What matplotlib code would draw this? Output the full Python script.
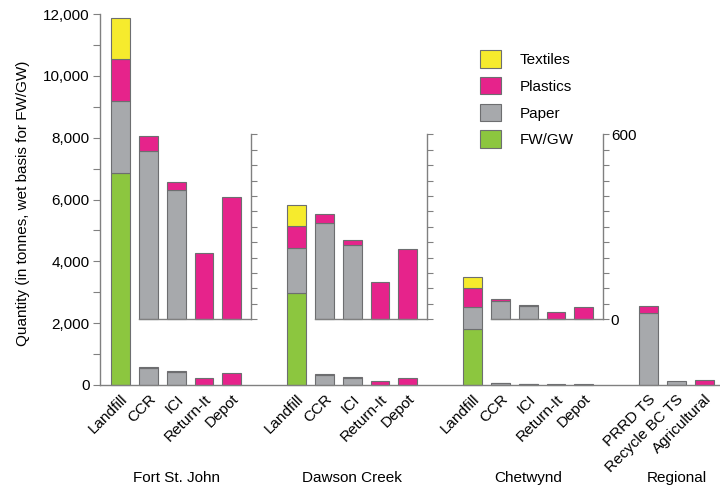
import matplotlib.pyplot as plt
import numpy as np

plt.rcParams['font.family'] = ['Liberation Sans', 'DejaVu Sans']
plt.rcParams['font.size'] = 11

# tonnes per year, stacked FW/GW -> Paper -> Plastics -> Textiles
fsj_sites = ['Landfill', 'CCR', 'ICI', 'Return-It', 'Depot']
fsj_fwgw = [6850, 0, 0, 0, 0]
fsj_paper = [2340, 545, 418, 0, 0]
fsj_plastics = [1360, 50, 28, 214, 398]
fsj_textiles = [1320, 0, 0, 0, 0]

dc_sites = ['Landfill', 'CCR', 'ICI', 'Return-It', 'Depot']
dc_fwgw = [2990, 0, 0, 0, 0]
dc_paper = [1455, 311, 240, 0, 0]
dc_plastics = [710, 30, 16, 122, 227]
dc_textiles = [670, 0, 0, 0, 0]

chet_sites = ['Landfill', 'CCR', 'ICI', 'Return-It', 'Depot']
chet_fwgw = [1800, 0, 0, 0, 0]
chet_paper = [710, 59, 43, 0, 0]
chet_plastics = [615, 6, 4, 23, 41]
chet_textiles = [355, 0, 0, 0, 0]

reg_sites = ['PRRD TS', 'Recycle BC TS', 'Agricultural']
reg_fwgw = [0, 0, 0]
reg_paper = [2340, 130, 0]
reg_plastics = [210, 0, 150]
reg_textiles = [0, 0, 0]

group_names = ['Fort St. John', 'Dawson Creek', 'Chetwynd', 'Regional']

col_fwgw = '#8CC63F'
col_paper = '#A7A9AC'
col_plastics = '#E6238B'
col_textiles = '#F6EB2D'
edge = '#6D6E70'
spine_col = '#808080'

groups = [
    (fsj_sites, fsj_fwgw, fsj_paper, fsj_plastics, fsj_textiles),
    (dc_sites, dc_fwgw, dc_paper, dc_plastics, dc_textiles),
    (chet_sites, chet_fwgw, chet_paper, chet_plastics, chet_textiles),
    (reg_sites, reg_fwgw, reg_paper, reg_plastics, reg_textiles),
]
group_start = [0, 6.33, 12.66, 18.99]
width = 0.68


def stacked(axis, x, fw, pa, pl, te):
    bottom = np.zeros(len(x))
    for vals, c in [(fw, col_fwgw), (pa, col_paper), (pl, col_plastics), (te, col_textiles)]:
        vals = np.array(vals, dtype=float)
        m = vals > 0
        if m.any():
            axis.bar(x[m], vals[m], width, bottom=bottom[m], color=c,
                     edgecolor=edge, linewidth=0.8, clip_on=False)
        bottom += vals


fig = plt.figure(figsize=(7.2, 4.91), dpi=100)
ax = fig.add_axes([100 / 720, 106 / 491, 620 / 720, 371 / 491])

all_x = []
all_labels = []
for gi, (sites, fw, pa, pl, te) in enumerate(groups):
    x = group_start[gi] + np.arange(len(sites))
    stacked(ax, x, fw, pa, pl, te)
    all_x += list(x)
    all_labels += sites

    ax.text(x.mean(), -0.2507, group_names[gi], transform=ax.get_xaxis_transform(),
            ha='center', va='center', fontsize=11)

    # zoomed inset for the small sites (0-600 t)
    if gi < 3:
        x0 = x[1] - width / 2
        x1 = x[-1] + width / 2 + 0.36
        ins = ax.inset_axes([x0, 2125, x1 - x0, 5985], transform=ax.transData)
        ins.patch.set_visible(False)
        stacked(ins, x[1:], fw[1:], pa[1:], pl[1:], te[1:])
        ins.set_xlim(x0, x1)
        ins.set_ylim(0, 600)
        ins.set_xticks([])
        ins.yaxis.tick_right()
        ins.set_yticks(np.arange(0, 601, 50))
        if gi == 2:
            ins.set_yticklabels(['0'] + [''] * 11 + ['600'])
        else:
            ins.set_yticklabels([])
        ins.tick_params(axis='y', direction='out', length=4, width=0.8,
                        color=spine_col, pad=1.5, labelsize=11)
        for s in ['left', 'top']:
            ins.spines[s].set_visible(False)
        for s in ['right', 'bottom']:
            ins.spines[s].set_color(spine_col)
            ins.spines[s].set_linewidth(1.0)

ax.set_xlim(-0.74, 21.56)
ax.set_ylim(0, 12000)
ax.set_yticks(np.arange(0, 12001, 2000))
ax.set_yticks(np.arange(1000, 12000, 2000), minor=True)
ax.set_yticklabels(['{:,}'.format(v) for v in range(0, 12001, 2000)])
ax.tick_params(axis='y', which='both', direction='out', length=5, width=0.8,
               color=spine_col, pad=2.5, labelsize=11)
ax.set_xticks(all_x)
ax.set_xticklabels(all_labels, rotation=45, ha='right', va='top',
                   rotation_mode='anchor', fontsize=11)
ax.tick_params(axis='x', length=0, pad=5)
for s in ['top', 'right']:
    ax.spines[s].set_visible(False)
for s in ['left', 'bottom']:
    ax.spines[s].set_color(spine_col)
    ax.spines[s].set_linewidth(1.0)

ax.set_ylabel('Quantity (in tonnes, wet basis for FW/GW)', fontsize=11)
ax.yaxis.set_label_coords(-0.113, 0.49)

handles = [plt.Rectangle((0, 0), 1, 1, facecolor=c, edgecolor=edge, linewidth=0.8)
           for c in [col_textiles, col_plastics, col_paper, col_fwgw]]
fig.legend(handles, ['Textiles', 'Plastics', 'Paper', 'FW/GW'],
           loc='upper left', bbox_to_anchor=(480 / 720, 1 - 50 / 491),
           frameon=False, fontsize=11, borderpad=0, borderaxespad=0,
           handlelength=1.4, handleheight=1.4, labelspacing=0.6, handletextpad=1.2)

fig.savefig('out.png', dpi=100)
